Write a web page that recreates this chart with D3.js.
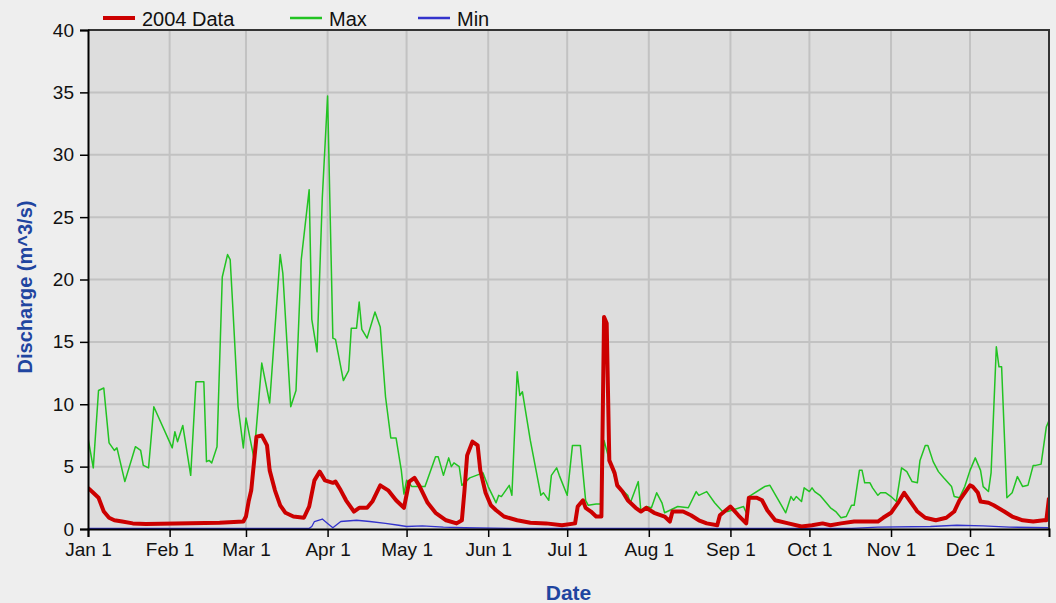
<!DOCTYPE html>
<html>
<head>
<meta charset="utf-8">
<script src="https://cdn.jsdelivr.net/npm/d3@7"></script>
<style>
  body { margin: 0; background: #eeeeee; }
  svg { display: block; }
  text { font-family: "Liberation Sans", Arial, sans-serif; }
</style>
</head>
<body>
<div id="chart"></div>
<script>
const width = 1056;
const height = 603;
const margin = { top: 30, right: 7, bottom: 74, left: 88 };

// day of year 2004 (0 = Jan 1) and discharge in m^3/s
const dataDays = [0, 2, 4, 6, 8, 10, 13, 17, 22, 50, 59, 60, 61, 62, 64, 66, 68, 69, 71, 73, 75, 78, 82, 84, 86, 88, 90, 93, 94, 96, 98, 101, 103, 106, 108, 111, 114, 117, 120, 122, 124, 126, 129, 132, 136, 140, 142, 143, 144, 146, 148, 149, 151, 153, 155, 158, 163, 168, 174, 180, 185, 186, 188, 189, 191, 193, 195, 196, 197, 198, 200, 201, 203, 205, 208, 210, 212, 215, 219, 221, 222, 226, 229, 232, 235, 239, 240, 244, 247, 250, 251, 254, 256, 258, 261, 266, 271, 275, 279, 282, 286, 291, 300, 302, 305, 308, 310, 312, 315, 318, 322, 326, 329, 331, 335, 336, 338, 339, 342, 344, 348, 351, 355, 359, 363, 364, 365];
const dataVals = [3.3, 2.9, 2.5, 1.4, 0.9, 0.7, 0.6, 0.45, 0.4, 0.5, 0.6, 1.0, 2.2, 3.1, 7.4, 7.5, 6.7, 4.7, 3.1, 1.9, 1.3, 1.0, 0.9, 1.8, 3.9, 4.6, 3.9, 3.7, 3.8, 3.1, 2.3, 1.4, 1.7, 1.7, 2.2, 3.5, 3.1, 2.3, 1.7, 3.8, 4.1, 3.4, 2.1, 1.3, 0.7, 0.45, 0.7, 3.1, 5.9, 7.0, 6.7, 4.7, 2.9, 1.9, 1.5, 1.0, 0.7, 0.5, 0.45, 0.3, 0.45, 1.8, 2.3, 1.7, 1.4, 1.0, 1.0, 17.0, 16.5, 5.5, 4.5, 3.5, 3.0, 2.3, 1.7, 1.4, 1.7, 1.3, 1.0, 0.6, 1.4, 1.4, 1.1, 0.7, 0.45, 0.3, 1.1, 1.8, 1.1, 0.45, 2.5, 2.5, 2.3, 1.5, 0.7, 0.45, 0.2, 0.3, 0.45, 0.3, 0.45, 0.6, 0.6, 0.9, 1.3, 2.2, 2.9, 2.3, 1.4, 0.9, 0.7, 0.9, 1.4, 2.3, 3.5, 3.4, 2.9, 2.2, 2.1, 1.9, 1.4, 1.0, 0.7, 0.6, 0.7, 0.7, 2.5];

const maxDays = [0, 2, 4, 6, 8, 10, 11, 14, 18, 20, 21, 23, 25, 32, 33, 34, 36, 39, 41, 44, 45, 46, 47, 49, 51, 53, 54, 55, 57, 59, 60, 63, 66, 69, 73, 74, 77, 79, 81, 84, 85, 87, 89, 91, 93, 94, 97, 99, 100, 102, 103, 104, 106, 109, 111, 113, 115, 117, 119, 120, 121, 123, 128, 132, 133, 135, 137, 138, 139, 141, 142, 145, 150, 152, 155, 156, 157, 160, 161, 163, 164, 165, 168, 172, 173, 175, 176, 178, 179, 182, 184, 187, 189, 190, 193, 195, 196, 198, 200, 202, 205, 206, 209, 210, 212, 214, 216, 218, 219, 224, 228, 231, 232, 235, 238, 241, 243, 249, 250, 251, 257, 259, 265, 267, 268, 269, 271, 272, 274, 275, 276, 278, 282, 284, 286, 288, 290, 291, 293, 294, 295, 297, 298, 300, 301, 303, 305, 307, 309, 311, 313, 315, 316, 318, 319, 321, 323, 325, 328, 329, 331, 333, 335, 337, 339, 340, 342, 343, 345, 346, 347, 349, 351, 353, 355, 357, 359, 360, 362, 364, 365];
const maxVals = [7.3, 4.9, 11.1, 11.3, 6.9, 6.3, 6.5, 3.8, 6.6, 6.3, 5.1, 4.9, 9.8, 6.5, 7.8, 7.0, 8.3, 4.3, 11.8, 11.8, 5.4, 5.5, 5.3, 6.6, 20.2, 22.0, 21.6, 17.8, 9.8, 6.5, 8.9, 5.7, 13.3, 10.1, 22.0, 20.5, 9.8, 11.1, 21.6, 27.2, 16.8, 14.2, 26.6, 34.7, 15.3, 15.2, 11.9, 12.7, 16.1, 16.1, 18.2, 16.0, 15.3, 17.4, 16.2, 10.6, 7.3, 7.3, 4.7, 2.8, 3.9, 3.4, 3.4, 5.8, 5.8, 4.3, 5.7, 5.0, 5.3, 5.0, 3.5, 4.1, 4.5, 3.4, 2.1, 2.7, 2.6, 3.5, 2.7, 12.6, 10.7, 11.0, 7.1, 2.7, 2.9, 2.3, 4.3, 4.9, 4.3, 2.7, 6.7, 6.7, 2.3, 1.9, 2.0, 2.0, 7.1, 5.5, 4.2, 3.3, 2.7, 2.1, 3.8, 1.4, 1.8, 1.7, 2.9, 2.1, 1.3, 1.8, 1.7, 3.0, 2.7, 3.0, 2.1, 1.4, 1.4, 1.8, 1.3, 2.6, 3.4, 3.5, 1.3, 2.6, 2.3, 2.6, 2.2, 3.3, 3.0, 3.3, 3.0, 2.7, 1.7, 1.4, 0.9, 1.0, 1.9, 1.9, 4.7, 4.7, 3.7, 3.7, 3.3, 2.7, 2.9, 2.9, 2.6, 2.2, 4.9, 4.6, 3.8, 3.7, 5.5, 6.7, 6.7, 5.4, 4.6, 4.1, 3.4, 2.6, 2.5, 3.4, 4.7, 5.7, 4.7, 3.4, 3.0, 4.5, 14.6, 13.0, 13.0, 2.5, 2.9, 4.2, 3.4, 3.5, 5.1, 5.1, 5.2, 8.2, 8.7];

const minDays = [0, 60, 84, 85, 86, 89, 91, 93, 96, 102, 107, 113, 118, 121, 127, 135, 143, 160, 290, 300, 320, 330, 340, 350, 365];
const minVals = [0.05, 0.05, 0.05, 0.2, 0.6, 0.8, 0.45, 0.1, 0.6, 0.7, 0.6, 0.45, 0.3, 0.2, 0.25, 0.15, 0.1, 0.05, 0.05, 0.15, 0.2, 0.3, 0.25, 0.15, 0.1];

const yTicks = [0, 5, 10, 15, 20, 25, 30, 35, 40];
const seriesNames = ["2004 Data", "Max", "Min"];
const seriesColors = ["#cc0000", "#22c322", "#3333cc"];
const seriesWidths = [4, 1.5, 1.3];

const start = new Date(Date.UTC(2004, 0, 1));
const toDate = (d) => new Date(start.getTime() + d * 864e5);

const x = d3.scaleUtc()
  .domain([start, toDate(365)])
  .range([margin.left, width - margin.right]);
const y = d3.scaleLinear()
  .domain([0, 40])
  .range([height - margin.bottom, margin.top]);

const svg = d3.select("#chart").append("svg")
  .attr("width", width)
  .attr("height", height);

// plot background
svg.append("rect")
  .attr("x", margin.left).attr("y", margin.top)
  .attr("width", width - margin.left - margin.right)
  .attr("height", height - margin.top - margin.bottom)
  .attr("fill", "#dddddd");

const monthTicks = d3.utcMonth.range(start, toDate(365));

// grid
svg.append("g")
  .selectAll("line")
  .data(monthTicks.slice(1))
  .enter().append("line")
  .attr("x1", (d) => x(d)).attr("x2", (d) => x(d))
  .attr("y1", margin.top).attr("y2", height - margin.bottom)
  .attr("stroke", "#c2c2c2").attr("stroke-width", 2);
svg.append("g")
  .selectAll("line")
  .data(yTicks.slice(1))
  .enter().append("line")
  .attr("x1", margin.left).attr("x2", width - margin.right)
  .attr("y1", (d) => y(d)).attr("y2", (d) => y(d))
  .attr("stroke", "#c2c2c2").attr("stroke-width", 2);

svg.append("clipPath").attr("id", "clip")
  .append("rect")
  .attr("x", margin.left).attr("y", margin.top)
  .attr("width", width - margin.left - margin.right)
  .attr("height", height - margin.top - margin.bottom);

const series = [
  { days: minDays, vals: minVals, i: 2 },
  { days: maxDays, vals: maxVals, i: 1 },
  { days: dataDays, vals: dataVals, i: 0 }
];

const line = d3.line()
  .x((d) => x(toDate(d.day)))
  .y((d) => y(d.value));

series.forEach((s) => {
  const pts = s.days.map((d, k) => ({ day: d, value: s.vals[k] }));
  svg.append("path")
    .attr("clip-path", "url(#clip)")
    .attr("d", line(pts))
    .attr("fill", "none")
    .attr("stroke", seriesColors[s.i])
    .attr("stroke-width", seriesWidths[s.i])
    .attr("stroke-linejoin", "round");
});

// frame: top and right
svg.append("path")
  .attr("d", `M${margin.left},${margin.top}H${width - margin.right}V${height - margin.bottom}`)
  .attr("fill", "none").attr("stroke", "#333").attr("stroke-width", 2);

// axes
const yAxis = svg.append("g")
  .attr("transform", `translate(${margin.left},0)`)
  .call(d3.axisLeft(y).tickValues(yTicks).tickSize(8).tickPadding(6));
const xAxis = svg.append("g")
  .attr("transform", `translate(0,${height - margin.bottom})`)
  .call(d3.axisBottom(x).tickValues(monthTicks).tickSize(8).tickPadding(6)
    .tickFormat(d3.utcFormat("%b %-d")));

[yAxis, xAxis].forEach((g) => {
  g.select(".domain").attr("stroke", "#000").attr("stroke-width", 2);
  g.selectAll(".tick line").attr("stroke", "#000").attr("stroke-width", 1.5);
  g.selectAll(".tick text")
    .attr("fill", "#111")
    .style("font-family", '"Liberation Sans", Arial, sans-serif')
    .style("font-size", "19px");
});

// axis titles
svg.append("text")
  .attr("x", (margin.left + width - margin.right) / 2)
  .attr("y", 600)
  .attr("text-anchor", "middle")
  .attr("font-size", "21px")
  .attr("font-weight", "bold")
  .attr("fill", "#1f45a0")
  .text("Date");
svg.append("text")
  .attr("transform", "translate(32,287) rotate(-90)")
  .attr("text-anchor", "middle")
  .attr("font-size", "20px")
  .attr("font-weight", "bold")
  .attr("fill", "#1f45a0")
  .text("Discharge (m^3/s)");

// legend
const legendX = [103, 290, 418];
const legend = svg.append("g");
seriesNames.forEach((name, i) => {
  legend.append("line")
    .attr("x1", legendX[i]).attr("x2", legendX[i] + 32)
    .attr("y1", 18).attr("y2", 18)
    .attr("stroke", seriesColors[i])
    .attr("stroke-width", i === 0 ? 4 : 2.5);
  legend.append("text")
    .attr("x", legendX[i] + 39)
    .attr("y", 26)
    .attr("font-size", "20px")
    .attr("fill", "#111")
    .text(name);
});
</script>
</body>
</html>
